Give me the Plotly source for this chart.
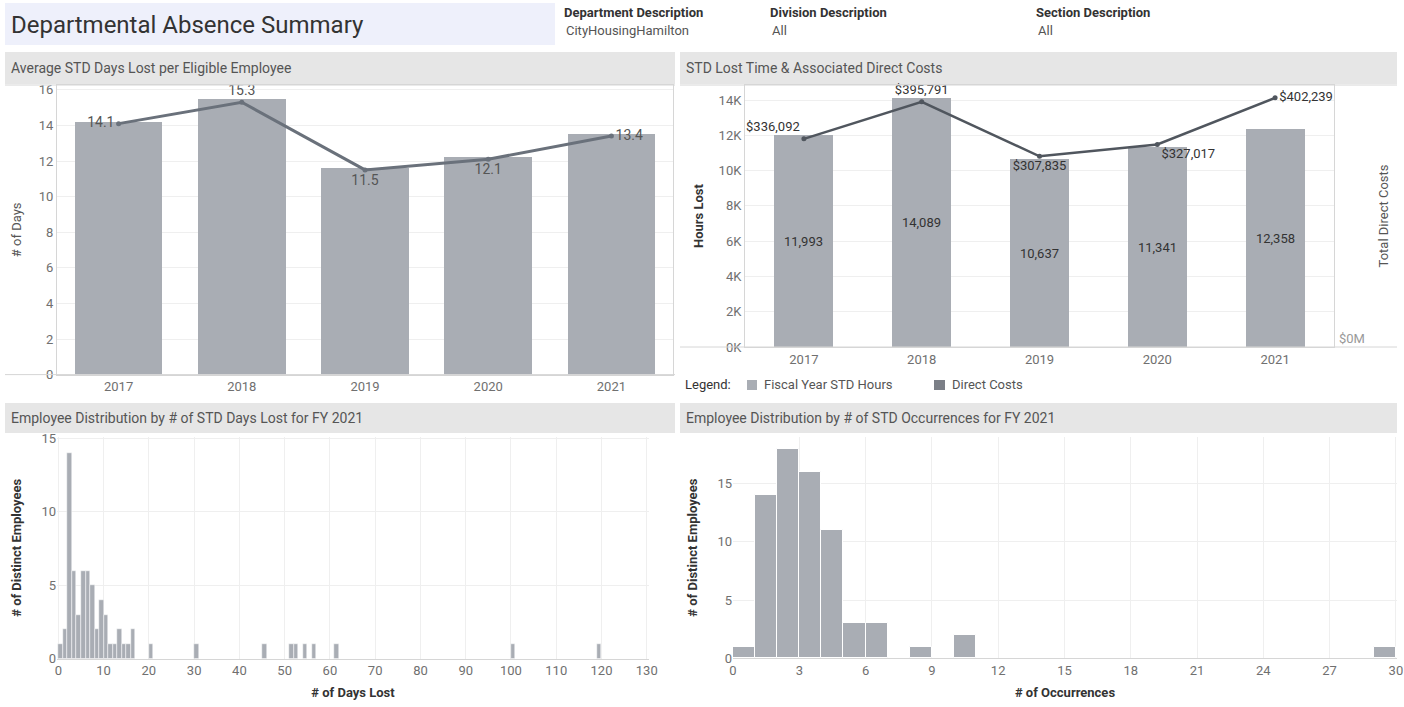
import plotly.graph_objects as go

# ---- data -------------------------------------------------------------
years = ["2017", "2018", "2019", "2020", "2021"]

# Average STD days lost per eligible employee
bar_days = [14.2, 15.5, 11.6, 12.2, 13.5]
avg_days = [14.1, 15.3, 11.5, 12.1, 13.4]

# STD hours lost and direct costs
std_hours = [11993, 14089, 10637, 11341, 12358]
direct_costs = [336092, 395791, 307835, 327017, 402239]
hours_ticks = [0, 2000, 4000, 6000, 8000, 10000, 12000, 14000]
hours_tick_labels = ["0K", "2K", "4K", "6K", "8K", "10K", "12K", "14K"]

# FY 2021 distribution by days lost (bin start, 1-day bins)
days_bins = [0, 1, 2, 3, 4, 5, 6, 7, 8, 9, 10, 11, 12, 13, 14, 15, 16,
             20, 30, 45, 51, 52, 54, 56, 61, 100, 119]
days_counts = [1, 2, 14, 6, 3, 6, 6, 5, 2, 4, 3, 1, 1, 2, 1, 1, 2,
               1, 1, 1, 1, 1, 1, 1, 1, 1, 1]

# FY 2021 distribution by number of occurrences (bin start, width 1)
occ_bins = [0, 1, 2, 3, 4, 5, 6, 8, 10, 29]
occ_counts = [1, 14, 18, 16, 11, 3, 3, 1, 2, 1]

# ---- styling ----------------------------------------------------------
W, H = 1404, 707
FONT = "Roboto"
BAR = "#a9adb4"
LINE_TL = "#6a717b"
LINE_TR = "#50565e"
GRID = "#efefef"
BORDER = "#d6d6d6"
TICK = "#707070"
TEXT = "#333333"


def px(x):
    return x / W


def py(y):
    return 1 - y / H


fig = go.Figure()

# Top-left: bars + line
fig.add_trace(go.Bar(x=years, y=bar_days, marker=dict(color=BAR), width=0.71,
                     xaxis="x", yaxis="y", hoverinfo="skip", showlegend=False))
fig.add_trace(go.Scatter(
    x=years, y=avg_days, mode="lines+markers+text",
    text=[f"{v:.1f}" for v in avg_days],
    textposition=["middle left", "top center", "bottom center", "bottom center", "middle right"],
    textfont=dict(family=FONT, size=14, color="#555555"),
    line=dict(color=LINE_TL, width=3), marker=dict(color=LINE_TL, size=5),
    xaxis="x", yaxis="y", cliponaxis=False, showlegend=False))

# Top-right: hours bars + cost line
fig.add_trace(go.Bar(
    x=years, y=std_hours, marker=dict(color=BAR), width=0.5,
    text=[f"{v:,}" for v in std_hours], textposition="inside",
    insidetextanchor="middle", textangle=0,
    textfont=dict(family=FONT, size=13, color=TEXT),
    xaxis="x2", yaxis="y2", hoverinfo="skip", showlegend=False))
fig.add_trace(go.Scatter(
    x=years, y=direct_costs, mode="lines+markers+text",
    text=[f"${v:,}" for v in direct_costs],
    textposition=["top left", "top center", "bottom center", "bottom right", "middle right"],
    textfont=dict(family=FONT, size=13, color=TEXT),
    line=dict(color=LINE_TR, width=2.5), marker=dict(color=LINE_TR, size=5),
    xaxis="x2", yaxis="y3", cliponaxis=False, showlegend=False))

# Bottom-left histogram
fig.add_trace(go.Bar(
    x=[b + 0.5 for b in days_bins], y=days_counts, width=1,
    marker=dict(color=BAR, line=dict(color="white", width=0.5)),
    xaxis="x3", yaxis="y4", hoverinfo="skip", showlegend=False))

# Bottom-right histogram
fig.add_trace(go.Bar(
    x=[b + 0.5 for b in occ_bins], y=occ_counts, width=1,
    marker=dict(color=BAR, line=dict(color="white", width=1)),
    xaxis="x4", yaxis="y5", hoverinfo="skip", showlegend=False))

tickfont = dict(family=FONT, size=13, color=TICK)
title_font = dict(family=FONT, size=13, color="#555555")
bold_title = dict(family=FONT, size=13, color=TEXT, weight="bold")

fig.update_layout(
    template="none",
    width=W, height=H, autosize=False,
    margin=dict(l=0, r=0, t=0, b=0),
    paper_bgcolor="white", plot_bgcolor="white",
    font=dict(family=FONT, color=TEXT),
    bargap=0,
    xaxis=dict(domain=[px(57), px(673)], anchor="y", type="category",
               range=[-0.5, 4.5], showgrid=False, ticks="", tickfont=tickfont,
               showline=True, linecolor=BORDER, mirror=True, zeroline=False),
    yaxis=dict(domain=[py(374.6), py(85)], anchor="x", range=[0, 16.27], dtick=2,
               gridcolor=GRID, ticks="", tickfont=tickfont, showline=True,
               linecolor=BORDER, mirror=True, zeroline=False,
               title=dict(text="# of Days", font=title_font, standoff=14)),
    xaxis2=dict(domain=[px(745), px(1334)], anchor="y2", type="category",
                range=[-0.5, 4.5], showgrid=False, ticks="", tickfont=tickfont,
                showline=True, linecolor=BORDER, mirror=True, zeroline=False),
    yaxis2=dict(domain=[py(347), py(85)], anchor="x2", range=[0, 14850],
                tickvals=hours_ticks, ticktext=hours_tick_labels,
                gridcolor=GRID, ticks="", tickfont=tickfont, showline=True,
                linecolor=BORDER, mirror=True, zeroline=False,
                title=dict(text="Hours Lost", font=bold_title, standoff=12)),
    yaxis3=dict(overlaying="y2", anchor="x2", side="right", range=[0, 423000],
                tickvals=[0], ticktext=["$0M"], showgrid=False, ticks="",
                tickfont=dict(family=FONT, size=13, color="#999999"),
                ticklabelshift=-9, ticklabelstandoff=4,
                zeroline=False, showline=False,
                title=dict(text="Total Direct Costs", font=title_font, standoff=14)),
    xaxis3=dict(domain=[px(57), px(649)], anchor="y4", range=[-0.3, 130.5],
                tickvals=list(range(0, 131, 10)), gridcolor=GRID, ticks="",
                tickfont=tickfont, showline=True, linecolor=BORDER, zeroline=False,
                title=dict(text="# of Days Lost", font=bold_title, standoff=10)),
    yaxis4=dict(domain=[py(658.6), py(437)], anchor="x3", range=[0, 15.1],
                dtick=5, gridcolor=GRID, ticks="", tickfont=tickfont,
                zeroline=False, showline=False,
                title=dict(text="# of Distinct Employees", font=bold_title, standoff=16)),
    xaxis4=dict(domain=[px(733), px(1397)], anchor="y5", range=[0, 30.05],
                tickvals=list(range(0, 31, 3)), gridcolor=GRID, ticks="",
                tickfont=tickfont, showline=True, linecolor=BORDER, zeroline=False,
                title=dict(text="# of Occurrences", font=bold_title, standoff=10)),
    yaxis5=dict(domain=[py(658.3), py(437)], anchor="x4", range=[0, 19],
                dtick=5, gridcolor=GRID, ticks="", tickfont=tickfont,
                zeroline=False, showline=False,
                title=dict(text="# of Distinct Employees", font=bold_title, standoff=16)),
)

shapes = [
    # title block
    dict(type="rect", xref="paper", yref="paper", x0=px(5), x1=px(555),
         y0=py(45), y1=py(3), fillcolor="#eef0fb", line=dict(width=0), layer="below"),
    # panel header bands
    dict(type="rect", xref="paper", yref="paper", x0=px(5), x1=px(675),
         y0=py(84), y1=py(52), fillcolor="#e6e6e6", line=dict(width=0), layer="below"),
    dict(type="rect", xref="paper", yref="paper", x0=px(680), x1=px(1397),
         y0=py(84), y1=py(52), fillcolor="#e6e6e6", line=dict(width=0), layer="below"),
    dict(type="rect", xref="paper", yref="paper", x0=px(5), x1=px(675),
         y0=py(433), y1=py(403), fillcolor="#e6e6e6", line=dict(width=0), layer="below"),
    dict(type="rect", xref="paper", yref="paper", x0=px(680), x1=px(1397),
         y0=py(433), y1=py(403), fillcolor="#e6e6e6", line=dict(width=0), layer="below"),
    # pane borders extended across each panel
    dict(type="line", xref="paper", yref="paper", x0=px(5), x1=px(675),
         y0=py(374.6), y1=py(374.6), line=dict(color=BORDER, width=1)),
    dict(type="line", xref="paper", yref="paper", x0=px(5), x1=px(675),
         y0=py(85), y1=py(85), line=dict(color=BORDER, width=1)),
    dict(type="line", xref="paper", yref="paper", x0=px(680), x1=px(1397),
         y0=py(347), y1=py(347), line=dict(color=BORDER, width=1)),
    dict(type="line", xref="paper", yref="paper", x0=px(680), x1=px(1397),
         y0=py(85), y1=py(85), line=dict(color=BORDER, width=1)),
    # legend swatches
    dict(type="rect", xref="paper", yref="paper", x0=px(747), x1=px(757),
         y0=py(390), y1=py(380), fillcolor=BAR, line=dict(width=0)),
    dict(type="rect", xref="paper", yref="paper", x0=px(934), x1=px(945),
         y0=py(390), y1=py(380), fillcolor="#7b7f87", line=dict(width=0)),
]
fig.update_layout(shapes=shapes)


def note(text, x, y, size=13, color=TEXT, weight="normal"):
    return dict(text=text, xref="paper", yref="paper", x=px(x), y=py(y),
                xanchor="left", yanchor="middle", showarrow=False,
                font=dict(family=FONT, size=size, color=color, weight=weight))


annotations = [
    note("Departmental Absence Summary", 9, 25, size=24, color="#333333"),
    note("Department Description", 562, 13, size=13, color="#333333", weight="bold"),
    note("CityHousingHamilton", 564, 31, size=13, color="#555555"),
    note("Division Description", 768, 13, size=13, color="#333333", weight="bold"),
    note("All", 770, 31, size=13, color="#555555"),
    note("Section Description", 1034, 13, size=13, color="#333333", weight="bold"),
    note("All", 1036, 31, size=13, color="#555555"),
    note("Average STD Days Lost per Eligible Employee", 9, 68, size=14, color="#555555"),
    note("STD Lost Time & Associated Direct Costs", 684, 68, size=14, color="#555555"),
    note("Employee Distribution by # of STD Days Lost for FY 2021", 9, 418, size=14, color="#555555"),
    note("Employee Distribution by # of STD Occurrences for FY 2021", 684, 418, size=14, color="#555555"),
    note("Legend:", 683, 384, size=13, color="#333333"),
    note("Fiscal Year STD Hours", 762, 384, size=13, color="#555555"),
    note("Direct Costs", 950, 384, size=13, color="#555555"),
]
fig.update_layout(annotations=annotations)

fig.write_html("out.html")
